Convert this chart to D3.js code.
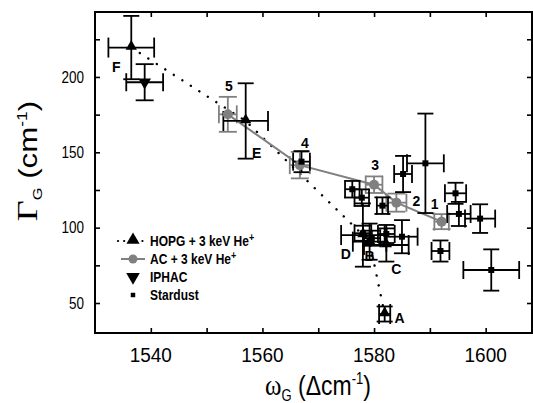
<!DOCTYPE html>
<html><head><meta charset="utf-8">
<script src="https://cdn.jsdelivr.net/npm/d3@7"></script>
<style>
body{margin:0;background:#fff}
svg{display:block}
text{font-family:"Liberation Sans",Arial,Helvetica,sans-serif;fill:#000}
.serif{font-family:"Liberation Serif","Times New Roman",serif}
</style>
</head><body>
<svg id="chart" width="533" height="403"></svg>
<script>
// ---------------- DATA ----------------
const xTickLabels = [1540, 1560, 1580, 1600];
const xTicksAll = [1540, 1550, 1560, 1570, 1580, 1590, 1600];
const yTickLabels = [50, 100, 150, 200];
const yTicksAll = [50, 75, 100, 125, 150, 175, 200, 225];

// HOPG + 3 keV He+ (up triangles)
const hopgLabels = ["F", "E", "D", "B", "C", "A"];
const hopgX    = [1536.5, 1557.0, 1578.0, 1579.2, 1582.2, 1581.9];
const hopgY    = [219.5, 170.8, 95.1, 90.7, 88.5, 42.7];
const hopgXErr = [4.1, 4.0, 3.9, 3.0, 4.0, 1.0];
const hopgYErr = [21, 25, 21, 12, 11, 5];
const hopgLineOrder = ["F", "E", "D", "B", "A"];

// AC + 3 keV He+ (grey circles)
const acLabels = ["5", "4", "3", "2", "1"];
const acX    = [1553.8, 1566.7, 1580.0, 1584.0, 1592.1];
const acY    = [175.2, 141.5, 128.5, 116.6, 104.0];
const acXErr = [1.6, 1.8, 1.5, 1.8, 1.3];
const acYErr = [11.6, 8.8, 5.5, 6.0, 5.0];

// IPHAC (down triangle)
const iphacX = [1538.9];
const iphacY = [196.5];
const iphacXErr = [3.3];
const iphacYErr = [12];

// Stardust (squares)
const sdX    = [1589.2, 1585.2, 1594.6, 1595.2, 1599.0, 1591.9, 1601.0, 1581.5, 1585.0, 1567.0, 1576.1, 1577.8, 1578.0, 1579.6, 1582.2];
const sdY    = [142.7, 135.6, 122.8, 109.1, 106.0, 84.5, 71.9, 114.6, 94.0, 143.8, 125.5, 119.9, 96.3, 93.0, 95.8];
const sdXErr = [3.3, 1.6, 1.9, 2.1, 2.7, 1.6, 5.0, 1.0, 2.8, 1.5, 1.3, 1.3, 1.5, 1.5, 1.5];
const sdYErr = [33, 12, 7, 8, 9.5, 7, 13.7, 5.5, 11, 7, 5.5, 5.5, 5, 5, 6];

// label offsets in pixels (style, not data)
const labelOffsets = {
  "5": [1, -29], "4": [5, -23], "3": [1, -20], "2": [20, -2], "1": [-7, -18],
  "F": [-15, 19], "E": [11, 32], "D": [-17, 18], "B": [0, 14], "C": [10, 24], "A": [15, 3]
};

// ---------------- LAYOUT ----------------
const L = 95, T = 12, R = 532, B = 333;
const GREY = "#808080";
const svg = d3.select("#chart");
const x = d3.scaleLinear().domain([1530, 1608.3]).range([L, R]);
const y = d3.scaleLinear().domain([30.1, 243.1]).range([B, T]);

function styleAxis(g) {
  g.select(".domain").remove();
  g.selectAll(".tick line").attr("stroke", "#000").attr("stroke-width", 1.6);
}
svg.append("g").attr("transform", `translate(0,${B})`)
  .call(d3.axisBottom(x).tickValues(xTicksAll).tickSizeInner(-5).tickSizeOuter(0).tickFormat("")).call(styleAxis);
svg.append("g").attr("transform", `translate(0,${T})`)
  .call(d3.axisTop(x).tickValues(xTicksAll).tickSizeInner(-5).tickSizeOuter(0).tickFormat("")).call(styleAxis);
svg.append("g").attr("transform", `translate(${L},0)`)
  .call(d3.axisLeft(y).tickValues(yTicksAll).tickSizeInner(-5).tickSizeOuter(0).tickFormat("")).call(styleAxis);
svg.append("g").attr("transform", `translate(${R},0)`)
  .call(d3.axisRight(y).tickValues(yTicksAll).tickSizeInner(-5).tickSizeOuter(0).tickFormat("")).call(styleAxis);

svg.append("rect").attr("x", L).attr("y", T).attr("width", R - L).attr("height", B - T)
  .attr("fill", "none").attr("stroke", "#000").attr("stroke-width", 2);

// tick labels
svg.selectAll(".xl").data(xTickLabels).enter().append("text")
  .attr("text-anchor", "middle").style("font-size", "19px")
  .attr("transform", d => `translate(${x(d)},362) scale(1,1.1)`).text(d => d);
svg.selectAll(".yl").data(yTickLabels).enter().append("text")
  .attr("text-anchor", "end").style("font-size", "13.5px")
  .attr("transform", d => `translate(84,${y(d) + 5.8}) scale(1,1.2)`).text(d => d);

// x title
const xtt = svg.append("text").attr("text-anchor", "middle").style("font-size", "23px")
  .attr("transform", "translate(318,395) scale(1,1.2)");
xtt.append("tspan").attr("class", "serif").style("font-size", "25px").text("\u03C9");
xtt.append("tspan").attr("dy", 5).style("font-size", "13px").text("G");
xtt.append("tspan").attr("dy", -5).text(" (\u0394cm");
xtt.append("tspan").attr("dy", -9).style("font-size", "13px").text("-1");
xtt.append("tspan").attr("dy", 9).text(")");

// y title (rotated, stretched along its length like the reference)
const ytt = svg.append("text").attr("text-anchor", "middle").style("font-size", "25px")
  .attr("transform", "translate(37,161) rotate(-90) scale(1.25,1)");
ytt.append("tspan").attr("class", "serif").style("font-size", "29px").text("\u0393");
ytt.append("tspan").attr("dy", 5).style("font-size", "13px").text("G");
ytt.append("tspan").attr("dy", -5).text(" (cm");
ytt.append("tspan").attr("dy", -10).style("font-size", "14px").text("-1");
ytt.append("tspan").attr("dy", 10).text(")");

// ---------------- LINES ----------------
const hopgIdx = l => hopgLabels.indexOf(l);
svg.append("path")
  .datum(hopgLineOrder.map(hopgIdx))
  .attr("d", d3.line().x(i => x(hopgX[i])).y(i => y(hopgY[i])))
  .attr("fill", "none").attr("stroke", "#000").attr("stroke-width", 2.4)
  .attr("stroke-linecap", "round").attr("stroke-dasharray", "0.1,10");

svg.append("path")
  .datum(d3.range(acX.length))
  .attr("d", d3.line().x(i => x(acX[i])).y(i => y(acY[i])))
  .attr("fill", "none").attr("stroke", GREY).attr("stroke-width", 2);

// ---------------- ERROR BARS ----------------
function errorBars(X, Y, XE, YE, color, cap, capX) {
  const g = svg.append("g").attr("stroke", color).attr("stroke-width", 1.8).attr("fill", "none");
  const idx = d3.range(X.length);
  const sel = g.selectAll("g").data(idx).enter().append("g");
  sel.append("line").attr("x1", i => x(X[i])).attr("x2", i => x(X[i]))
    .attr("y1", i => y(Y[i] - YE[i])).attr("y2", i => y(Y[i] + YE[i]));
  sel.append("line").attr("x1", i => x(X[i] - XE[i])).attr("x2", i => x(X[i] + XE[i]))
    .attr("y1", i => y(Y[i])).attr("y2", i => y(Y[i]));
  [1, -1].forEach(s => {
    sel.append("line").attr("x1", i => x(X[i]) - cap).attr("x2", i => x(X[i]) + cap)
      .attr("y1", i => y(Y[i] + s * YE[i])).attr("y2", i => y(Y[i] + s * YE[i]));
    sel.append("line").attr("y1", i => y(Y[i]) - capX).attr("y2", i => y(Y[i]) + capX)
      .attr("x1", i => x(X[i] + s * XE[i])).attr("x2", i => x(X[i] + s * XE[i]));
  });
}
errorBars(acX, acY, acXErr, acYErr, GREY, 9, 9);
errorBars(sdX, sdY, sdXErr, sdYErr, "#000", 8, 9);
errorBars(iphacX, iphacY, iphacXErr, iphacYErr, "#000", 9, 9);
errorBars(hopgX, hopgY, hopgXErr, hopgYErr, "#000", 8, 10);

// ---------------- MARKERS ----------------
svg.selectAll(".ac").data(d3.range(acX.length)).enter().append("circle")
  .attr("cx", i => x(acX[i])).attr("cy", i => y(acY[i])).attr("r", 5).attr("fill", GREY);
svg.selectAll(".sd").data(d3.range(sdX.length)).enter().append("path")
  .attr("d", d3.symbol(d3.symbolSquare, 36))
  .attr("transform", i => `translate(${x(sdX[i])},${y(sdY[i])})`).attr("fill", "#000");
svg.selectAll(".ip").data(d3.range(iphacX.length)).enter().append("path")
  .attr("d", d3.symbol(d3.symbolTriangle, 70))
  .attr("transform", i => `translate(${x(iphacX[i])},${y(iphacY[i])}) rotate(180)`).attr("fill", "#000");
svg.selectAll(".hp").data(d3.range(hopgX.length)).enter().append("path")
  .attr("d", d3.symbol(d3.symbolTriangle, 55))
  .attr("transform", i => `translate(${x(hopgX[i])},${y(hopgY[i]) - 1})`).attr("fill", "#000");

// ---------------- POINT LABELS ----------------
function pointLabel(lbl, px, py) {
  const o = labelOffsets[lbl];
  svg.append("text").attr("text-anchor", "middle").style("font-size", "14px").style("font-weight", "bold")
    .attr("transform", `translate(${px + o[0]},${py + o[1] + 5.5}) scale(1,1.1)`).text(lbl);
}
acLabels.forEach((l, i) => pointLabel(l, x(acX[i]), y(acY[i])));
hopgLabels.forEach((l, i) => pointLabel(l, x(hopgX[i]), y(hopgY[i])));

// ---------------- LEGEND ----------------
const legendRows = [
  {name: "HOPG + 3 keV He", sup: "+", kind: "hopg"},
  {name: "AC + 3 keV He", sup: "+", kind: "ac"},
  {name: "IPHAC", sup: "", kind: "iphac"},
  {name: "Stardust", sup: "", kind: "sd"}
];
const lg = svg.append("g");
legendRows.forEach((r, k) => {
  const cy = 241 + k * 18, sx = 133;
  if (r.kind === "hopg") {
    lg.append("line").attr("x1", 118).attr("x2", 148).attr("y1", cy).attr("y2", cy)
      .attr("stroke", "#000").attr("stroke-width", 2.2).attr("stroke-linecap", "round").attr("stroke-dasharray", "0.1,6");
    lg.append("path").attr("d", d3.symbol(d3.symbolTriangle, 75)).attr("transform", `translate(${sx},${cy - 1})`);
  } else if (r.kind === "ac") {
    lg.append("line").attr("x1", 121).attr("x2", 145).attr("y1", cy).attr("y2", cy).attr("stroke", GREY).attr("stroke-width", 2);
    lg.append("circle").attr("cx", sx).attr("cy", cy).attr("r", 4.5).attr("fill", GREY);
  } else if (r.kind === "iphac") {
    lg.append("path").attr("d", d3.symbol(d3.symbolTriangle, 80)).attr("transform", `translate(${sx},${cy}) rotate(180)`);
  } else {
    lg.append("path").attr("d", d3.symbol(d3.symbolSquare, 20)).attr("transform", `translate(${sx},${cy})`);
  }
  const t = lg.append("text").style("font-size", "12px").style("font-weight", "bold")
    .attr("transform", `translate(150,${cy + 5}) scale(1,1.18)`);
  t.append("tspan").text(r.name);
  if (r.sup) t.append("tspan").attr("dy", -4).style("font-size", "9px").text(r.sup);
});
</script>
</body></html>
